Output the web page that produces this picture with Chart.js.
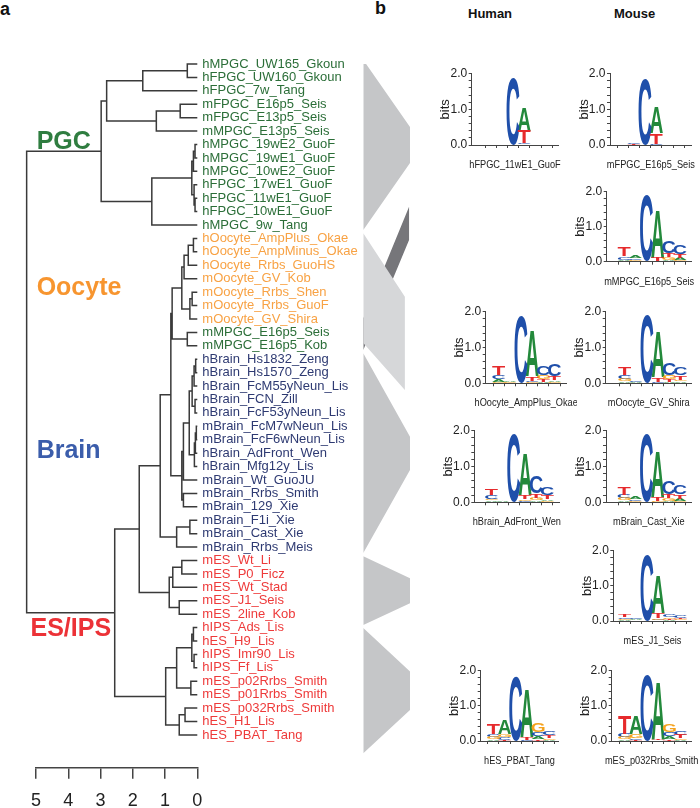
<!DOCTYPE html>
<html><head><meta charset="utf-8">
<script src="https://cdn.jsdelivr.net/npm/chart.js@4.4.1/dist/chart.umd.min.js"></script>
<style>
html,body{margin:0;padding:0;background:#fff;}
#wrap{position:relative;width:700px;height:808px;overflow:hidden;font-family:"Liberation Sans",Arial,Helvetica,sans-serif;background:#fff;}
#wrap canvas{position:absolute;}
.t{position:absolute;white-space:nowrap;line-height:1;font-weight:bold;color:#111;}
</style></head><body>
<div id="wrap">
 <div class="t" style="left:0px;top:0px;font-size:18px">a</div>
 <div class="t" style="left:375px;top:-1px;font-size:18px">b</div>
 <div class="t" style="left:468px;top:7px;font-size:13px">Human</div>
 <div class="t" style="left:614px;top:7px;font-size:13px">Mouse</div>
</div>
<script>
// ---------------- DATA ----------------
const leafNames = ['hMPGC_UW165_Gkoun','hFPGC_UW160_Gkoun','hFPGC_7w_Tang','mFPGC_E16p5_Seis','mFPGC_E13p5_Seis','mMPGC_E13p5_Seis','hMPGC_19wE2_GuoF','hMPGC_19wE1_GuoF','hMPGC_10wE2_GuoF','hFPGC_17wE1_GuoF','hFPGC_11wE1_GuoF','hFPGC_10wE1_GuoF','hMPGC_9w_Tang',
'hOocyte_AmpPlus_Okae','hOocyte_AmpMinus_Okae','hOocyte_Rrbs_GuoHS','mOocyte_GV_Kob','mOocyte_Rrbs_Shen','mOocyte_Rrbs_GuoF','mOocyte_GV_Shira',
'mMPGC_E16p5_Seis','mMPGC_E16p5_Kob',
'hBrain_Hs1832_Zeng','hBrain_Hs1570_Zeng','hBrain_FcM55yNeun_Lis','hBrain_FCN_Zill','hBrain_FcF53yNeun_Lis','mBrain_FcM7wNeun_Lis','mBrain_FcF6wNeun_Lis','hBrain_AdFront_Wen','hBrain_Mfg12y_Lis','mBrain_Wt_GuoJU','mBrain_Rrbs_Smith','mBrain_129_Xie','mBrain_F1i_Xie','mBrain_Cast_Xie','mBrain_Rrbs_Meis',
'mES_Wt_Li','mES_P0_Ficz','mES_Wt_Stad','mES_J1_Seis','mES_2line_Kob','hIPS_Ads_Lis','hES_H9_Lis','hIPS_Imr90_Lis','hIPS_Ff_Lis','mES_p02Rrbs_Smith','mES_p01Rrbs_Smith','mES_p032Rrbs_Smith','hES_H1_Lis','hES_PBAT_Tang'];
const leafGroup = [0,0,0,0,0,0,0,0,0,0,0,0,0, 1,1,1,1,1,1,1, 0,0, 2,2,2,2,2,2,2,2,2,2,2,2,2,2,2, 3,3,3,3,3,3,3,3,3,3,3,3,3,3];
const groupNames = ['PGC','Oocyte','Brain','ES/IPS'];
// hclust-style merges: negative = leaf number, positive = earlier merge number
const mergeA = [-1, 1,-4, 3, 2,-7, 6,-11,-10, 7,10, 5,-14,13,14,-18,16,15,-21,18,-23,21,-26,22,-28,25,26,24,28,-33,29,20,-35,33,32,-38,36,-41,37,35,-43,-45,41,-47,43,-49,46,45,40,12];
const mergeB = [-2,-3,-5,-6, 4,-8,-9,-12, 8, 9,-13,11,-15,-16,-17,-19,-20,17,-22,19,-24,-25,-27,23,-29,-30,-31,27,-32,-34,30,31,-36,-37,34,-39,-40,-42,38,39,-44,-46,42,-48,44,-50,-51,47,48,49];
const mergeH = [0.31,1.69,0.53,1.27,2.81,0.07,0.12,0.07,0.10,0.17,1.41,2.98,0.12,0.28,0.41,0.16,0.23,0.48,0.31,0.78,0.05,0.10,0.07,0.16,0.03,0.06,0.09,0.25,0.43,0.43,0.48,0.82,0.23,0.64,1.15,0.48,0.76,0.56,0.87,1.80,0.12,0.10,0.17,0.20,0.64,0.38,0.56,0.98,2.56,5.29];
const axisTicks = [5,4,3,2,1,0];

const logoNames = ['hFPGC_11wE1_GuoF','mFPGC_E16p5_Seis','mMPGC_E16p5_Seis','hOocyte_AmpPlus_Okae','mOocyte_GV_Shira','hBrain_AdFront_Wen','mBrain_Cast_Xie','mES_J1_Seis','hES_PBAT_Tang','mES_p032Rrbs_Smith'];
const logoPositions = [1,2,3,4,5,6];
const logoA = [
 [0,0,0,0.64,0,0],
 [0,0.01,0,0.72,0,0],
 [0.04,0.08,0,1.38,0.04,0.06],
 [0.06,0.04,0,1.25,0.05,0.05],
 [0.06,0.02,0,1.27,0.05,0.05],
 [0.05,0.02,0,1.15,0.05,0.05],
 [0.05,0.07,0,1.25,0.04,0.06],
 [0.03,0.03,0,1.07,0.03,0.02],
 [0.05,0.40,0,1.37,0.08,0.04],
 [0.05,0.50,0,1.63,0.08,0.04]];
const logoC = [
 [0,0.02,1.88,0.03,0,0],
 [0,0.04,1.86,0.02,0.01,0],
 [0.09,0.05,1.90,0.01,0.35,0.26],
 [0.12,0.01,1.90,0.04,0.25,0.32],
 [0.10,0.02,1.91,0.03,0.33,0.23],
 [0.09,0,1.91,0.04,0.47,0.21],
 [0.10,0.05,1.91,0.02,0.38,0.24],
 [0.05,0.04,1.90,0.04,0.08,0.06],
 [0.08,0.07,1.86,0.02,0.10,0.10],
 [0.10,0.05,1.89,0.01,0.10,0.12]];
const logoG = [
 [0,0,0,0.02,0,0],
 [0,0,0,0.01,0,0],
 [0.02,0.04,0,0.01,0.09,0.04],
 [0.05,0.02,0,0.03,0.10,0.04],
 [0.06,0.01,0,0.02,0.10,0.05],
 [0.05,0.01,0,0.04,0.08,0.03],
 [0.06,0.03,0,0.02,0.08,0.04],
 [0.03,0.02,0,0.04,0.05,0.03],
 [0.06,0.08,0,0.01,0.26,0.05],
 [0.06,0.10,0,0.01,0.21,0.05]];
const logoT = [
 [0,0,0,0.35,0,0],
 [0,0.02,0,0.30,0,0.01],
 [0.27,0.02,0,0.10,0.10,0.12],
 [0.25,0.01,0,0.12,0.08,0.12],
 [0.22,0,0,0.12,0.08,0.12],
 [0.19,0,0,0.12,0.12,0.12],
 [0.20,0.01,0,0.12,0.12,0.12],
 [0.06,0,0,0.16,0.04,0.04],
 [0.29,0.04,0,0.08,0.06,0.07],
 [0.53,0.04,0,0.05,0.06,0.09]];

// ---------------- LAYOUT / STYLE ----------------
const FONT = '"Liberation Sans", Arial, Helvetica, sans-serif';
Chart.defaults.font.family = FONT;
const leafColors = ['#2b6e38','#f8a244','#2e3a72','#ee3a3a'];
const groupColors = ['#2f7d40','#f7952f','#3b5dab','#ec3237'];
const groupLabelLeaf = [6.79, 17.69, 29.84, 43.1];
const groupLabelH = [4.98, 4.98, 4.98, 5.17];
const Y_MIN = 1, Y_MAX = 53.44;   // leaf-unit range of dendrogram plot (top 64px .. axis 767.7px)

// wedges (leaf units on the left, target rows on the right)
const WEDGES = [
 {lt:0.70, lb:13.37, rt:5.69, rb:8.38, rx:1, color:'#c5c6c8'},
 {lt:13.62, lb:21.79, rt:18.34, rb:25.29, rx:0.89, color:'#d6d7d9'},
 {lt:22.56, lb:37.44, rt:28.77, rb:31.25, rx:1, color:'#c5c6c8'},
 {lt:37.69, lb:42.8, rt:39.32, rb:41.19, rx:1, color:'#c5c6c8'},
 {lt:43.03, lb:52.36, rt:46.28, rb:49.14, rx:1, color:'#c5c6c8'},
 {lt:19.95, lb:22.31, rt:11.63, rb:14.11, rx:0.98, color:'#76767a'}
];

// logo panel placement (pixels): y-axis x, plot right, centre of position 3, y of 2.0 and 0.0
const logoBox = [
 {ax:471.7, right:558.3, c3:512.7, y2:73.3, y0:145},
 {ax:610,   right:691.7, c3:644,   y2:73.3, y0:145},
 {ax:606.7, right:691.7, c3:646,   y2:191,  y0:261.7},
 {ax:485.7, right:566.7, c3:520,   y2:311.7,y0:383.3},
 {ax:605.7, right:691.7, c3:646.7, y2:311.7,y0:383.3},
 {ax:474.3, right:559.3, c3:513.3, y2:430.7,y0:502.3},
 {ax:606,   right:691.7, c3:646,   y2:430.7,y0:502.3},
 {ax:613.3, right:691.7, c3:646,   y2:550.7,y0:621},
 {ax:480.7, right:558.3, c3:515,   y2:670,  y0:741},
 {ax:611.7, right:691.7, c3:646,   y2:670,  y0:741}
];
const baseColors = {A:'#23893b', C:'#1f4faa', G:'#f5a21c', T:'#e62a2c'};

const wrap = document.getElementById('wrap');
function addCanvas(left, top, w, h){
  const c = document.createElement('canvas');
  c.width = w; c.height = h;
  c.style.left = left + 'px'; c.style.top = top + 'px';
  c.style.width = w + 'px'; c.style.height = h + 'px';
  wrap.appendChild(c);
  return c;
}

// ---------------- DENDROGRAM ----------------
const nodeY = [], nodeH = [];
function childPos(c){ return c < 0 ? {y:-c, h:0} : {y:nodeY[c-1], h:nodeH[c-1]}; }
const dendroPts = [];
mergeH.forEach((h, i) => {
  const a = childPos(mergeA[i]), b = childPos(mergeB[i]);
  nodeY[i] = (a.y + b.y) / 2; nodeH[i] = h;
  dendroPts.push({x:a.h, y:a.y}, {x:h, y:a.y}, {x:h, y:b.y}, {x:b.h, y:b.y}, {x:NaN, y:NaN});
});

const groupLabelPlugin = {
  id:'groupLabels',
  afterDraw(chart){
    const {ctx, scales:{x, y}} = chart;
    ctx.save();
    ctx.font = 'bold 25px ' + FONT;
    ctx.textAlign = 'left'; ctx.textBaseline = 'middle';
    groupNames.forEach((g, i) => {
      ctx.fillStyle = groupColors[i];
      ctx.fillText(g, x.getPixelForValue(groupLabelH[i]), y.getPixelForValue(groupLabelLeaf[i]));
    });
    ctx.restore();
  }
};

new Chart(addCanvas(0, 0, 360, 808), {
  type:'scatter',
  data:{datasets:[{data:dendroPts, showLine:true, borderColor:'#3a3a3a', borderWidth:1.5,
    pointRadius:0, pointHoverRadius:0, clip:false, tension:0, spanGaps:false, fill:false}]},
  options:{
    responsive:false, animation:false, devicePixelRatio:1, events:[],
    layout:{padding:{left:36, top:64, right:0, bottom:0}},
    plugins:{legend:{display:false}, tooltip:{enabled:false}},
    scales:{
      x:{type:'linear', reverse:true, min:0, max:5, position:'bottom',
        afterBuildTicks:s => { s.ticks = axisTicks.map(v => ({value:v})); },
        afterFit:s => { s.height = 40.3; },
        grid:{drawOnChartArea:false, drawTicks:true, tickLength:11, color:'#444', lineWidth:1.5},
        border:{display:true, color:'#444', width:1.5},
        ticks:{padding:12, color:'#222', font:{size:18, family:FONT}, maxRotation:0, autoSkip:false, callback:v => String(v)}},
      y:{type:'linear', reverse:true, min:Y_MIN, max:Y_MAX, position:'right',
        afterBuildTicks:s => { s.ticks = leafNames.map((_, i) => ({value:i + 1})); },
        afterFit:s => { s.width = 162.7; },
        grid:{display:false, drawTicks:false}, border:{display:false},
        ticks:{padding:5, autoSkip:false, font:{size:13, family:FONT},
          color:c => leafColors[leafGroup[c.index]],
          callback:(v, i) => leafNames[i]}}
    }
  },
  plugins:[groupLabelPlugin]
});

// ---------------- WEDGES ----------------
new Chart(addCanvas(355, 0, 60, 808), {
  type:'scatter',
  data:{datasets:WEDGES.map(w => ({
    data:[{x:0, y:w.lt}, {x:w.rx, y:w.rt}, {x:w.rx, y:w.rb}, {x:0, y:w.lb}, {x:0, y:w.lt}],
    showLine:true, fill:'shape', backgroundColor:w.color, borderColor:w.color, borderWidth:0,
    pointRadius:0, pointHoverRadius:0, tension:0}))},
  options:{
    responsive:false, animation:false, devicePixelRatio:1, events:[],
    layout:{padding:{left:8.3, right:5, top:64, bottom:40.3}},
    plugins:{legend:{display:false}, tooltip:{enabled:false}},
    scales:{
      x:{type:'linear', display:false, min:0, max:1},
      y:{type:'linear', display:false, reverse:true, min:Y_MIN, max:Y_MAX}
    }
  }
});

// ---------------- LOGOS ----------------
function drawGlyph(ctx, L, x0, y0, w, h, color){
  ctx.save();
  ctx.font = 'bold 100px ' + FONT;
  ctx.textAlign = 'left'; ctx.textBaseline = 'alphabetic';
  const m = ctx.measureText(L);
  const gl = m.actualBoundingBoxLeft, gr = m.actualBoundingBoxRight;
  const ga = m.actualBoundingBoxAscent, gd = m.actualBoundingBoxDescent;
  ctx.translate(x0, y0);
  ctx.scale(w / (gl + gr), h / (ga + gd));
  ctx.fillStyle = color;
  ctx.fillText(L, gl, ga);
  ctx.restore();
}
const glyphPlugin = {
  id:'glyphs',
  afterDatasetsDraw(chart){
    const ctx = chart.ctx;
    chart.data.datasets.forEach((ds, di) => {
      const meta = chart.getDatasetMeta(di);
      meta.data.forEach(el => {
        const p = el.getProps(['x', 'y', 'base', 'width'], true);
        const top = Math.min(p.y, p.base), h = Math.abs(p.base - p.y);
        if (!(h > 0.25)) return;
        drawGlyph(ctx, ds.label, p.x - p.width / 2, top, p.width, h, baseColors[ds.label]);
      });
    });
  }
};
// sample name under each logo (slightly condensed, like the source figure)
const logoLabelPlugin = {
  id:'logoLabel',
  afterDraw(chart, args, opts){
    const {ctx, chartArea} = chart;
    ctx.save();
    ctx.font = '11.5px ' + FONT;
    ctx.fillStyle = '#222';
    ctx.textAlign = 'center'; ctx.textBaseline = 'middle';
    ctx.translate((chartArea.left + chartArea.right) / 2, chartArea.bottom + 20);
    ctx.scale(0.8, 1);
    ctx.fillText(opts.text, 0, 0);
    ctx.restore();
  }
};
function logoDatasets(k){
  const hts = {A:logoA[k], C:logoC[k], G:logoG[k], T:logoT[k]};
  const bases = ['A', 'C', 'G', 'T'];
  const ds = {A:[], C:[], G:[], T:[]};
  logoPositions.forEach((pos, p) => {
    const order = bases.slice().sort((a, b) => hts[a][p] - hts[b][p]);
    let acc = 0;
    order.forEach(b => {
      const v = hts[b][p];
      if (v > 0) ds[b].push({x:pos, y:[acc, acc + v]});
      acc += v;
    });
  });
  return bases.map(b => ({label:b, data:ds[b], backgroundColor:'rgba(0,0,0,0)', borderWidth:0,
    grouped:false, barThickness:13}));
}
const SP = 13.4;
logoNames.forEach((name, k) => {
  const L = logoBox[k];
  const AXW = 36, AXH = 32;
  const cl = Math.floor(L.ax - AXW), ct = Math.floor(L.y2 - 8);
  const cw = Math.ceil(L.right + 10) - cl, ch = Math.ceil(L.y0 + AXH + 2) - ct;
  new Chart(addCanvas(cl, ct, cw, ch), {
    type:'bar',
    data:{datasets:logoDatasets(k)},
    options:{
      responsive:false, animation:false, devicePixelRatio:1, events:[],
      layout:{padding:{left:L.ax - AXW - cl, top:L.y2 - ct, right:cl + cw - L.right, bottom:ct + ch - L.y0 - AXH}},
      plugins:{legend:{display:false}, tooltip:{enabled:false}, logoLabel:{text:name}},
      scales:{
        x:{type:'linear', min:3 - (L.c3 - L.ax) / SP, max:3 + (L.right - L.c3) / SP,
          afterBuildTicks:s => { s.ticks = logoPositions.map(v => ({value:v})); },
          afterFit:s => { s.height = AXH; },
          grid:{drawOnChartArea:false, drawTicks:true, tickLength:3, color:'#444', lineWidth:1},
          border:{display:true, color:'#444', width:1},
          ticks:{display:false}},
        y:{type:'linear', min:0, max:2,
          afterBuildTicks:s => { s.ticks = Array.from({length:11}, (_, i) => ({value:i / 5})); },
          afterFit:s => { s.width = AXW; },
          grid:{drawOnChartArea:false, drawTicks:true, tickLength:3, color:'#444', lineWidth:1},
          border:{display:true, color:'#444', width:1},
          ticks:{autoSkip:false, padding:1.5, color:'#222', font:{size:12, family:FONT},
            callback:(v, i) => (i % 5 === 0 ? (i / 5).toFixed(1) : '')},
          title:{display:true, text:'bits', color:'#222', font:{size:13, family:FONT}, padding:{top:2.4, bottom:0}}}
      }
    },
    plugins:[glyphPlugin, logoLabelPlugin]
  });
});
</script>
</body></html>
